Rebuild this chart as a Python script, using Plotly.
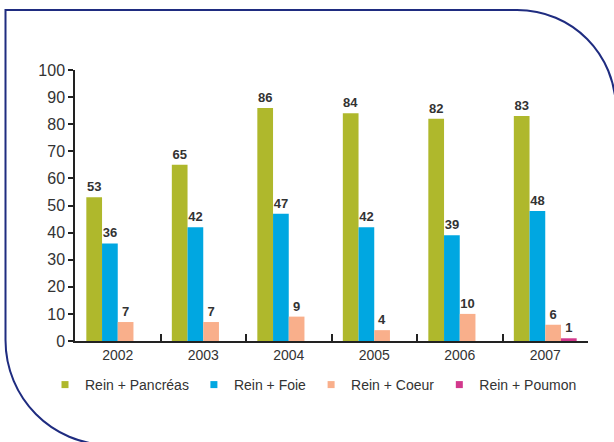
import plotly.graph_objects as go

years = ["2002", "2003", "2004", "2005", "2006", "2007"]
series_names = ["Rein + Pancréas", "Rein + Foie", "Rein + Coeur", "Rein + Poumon"]
rein_pancreas = [53, 65, 86, 84, 82, 83]
rein_foie = [36, 42, 47, 42, 39, 48]
rein_coeur = [7, 7, 9, 4, 10, 6]
rein_poumon = [None, None, None, None, None, 1]
y_ticks = [0, 10, 20, 30, 40, 50, 60, 70, 80, 90, 100]

colors = ["#AFB82C", "#00A7E1", "#F9AF8B", "#D2388C"]
series_values = [rein_pancreas, rein_foie, rein_coeur, rein_poumon]

W, H = 614, 442
L, R, T, B = 75, 588, 70, 341

fig = go.Figure()
for name, vals, col in zip(series_names, series_values, colors):
    fig.add_trace(go.Bar(
        x=years, y=vals, name=name, marker=dict(color=col, line=dict(width=0)),
        text=vals, texttemplate="<b>%{y}</b>", textposition="outside",
        textfont=dict(family="Liberation Sans, Arial, sans-serif", size=13, color="#333333"),
        cliponaxis=False, showlegend=False,
    ))
# legend entries with small square symbols
for name, col in zip(series_names, colors):
    fig.add_trace(go.Scatter(
        x=[None], y=[None], mode="markers", name=name,
        marker=dict(symbol="square", size=7, color=col),
        showlegend=True,
    ))

def X(px):
    return (px - L) / (R - L)

def Y(py):
    return (B - py) / (B - T)

path = (
    f"M {X(5.5)},{Y(340)} L {X(5.5)},{Y(10)} L {X(517)},{Y(10)} "
    f"C {X(572)},{Y(10)} {X(616)},{Y(54)} {X(616)},{Y(110)} "
    f"L {X(616)},{Y(445)} L {X(110)},{Y(445)} "
    f"C {X(52)},{Y(445)} {X(5.5)},{Y(398)} {X(5.5)},{Y(340)} Z"
)
fig.add_shape(type="path", path=path, xref="paper", yref="paper",
              line=dict(color="#1F2C80", width=2), fillcolor="rgba(0,0,0,0)", layer="below")

fig.update_layout(
    width=W, height=H,
    margin=dict(l=L, r=W - R, t=T, b=H - B),
    paper_bgcolor="white", plot_bgcolor="white",
    barmode="group", bargap=0.265, bargroupgap=0,
    font=dict(family="Liberation Sans, Arial, sans-serif", color="#333333"),
    legend=dict(orientation="h", x=X(45), xanchor="left", y=Y(385), yanchor="middle",
                font=dict(size=14, color="#333333"), itemwidth=30,
                bgcolor="rgba(0,0,0,0)", traceorder="normal"),
    xaxis=dict(type="category", showline=True, linecolor="#222222", linewidth=1.5,
               ticks="inside", tickson="boundaries", ticklen=7, tickcolor="#222222",
               tickwidth=1.5, showgrid=False, zeroline=False,
               tickfont=dict(size=14, color="#333333"), fixedrange=True),
    yaxis=dict(range=[0, 100], tickvals=y_ticks, showline=True, linecolor="#222222",
               linewidth=1.5, ticks="outside", ticklen=5, tickcolor="#222222", tickwidth=1.5,
               showgrid=False, zeroline=False, tickfont=dict(size=16, color="#333333"),
               fixedrange=True),
)

fig.write_html(
    "out.html",
    config={"displayModeBar": False},
    post_script="document.body.style.margin='0';document.body.style.overflow='hidden';",
)
